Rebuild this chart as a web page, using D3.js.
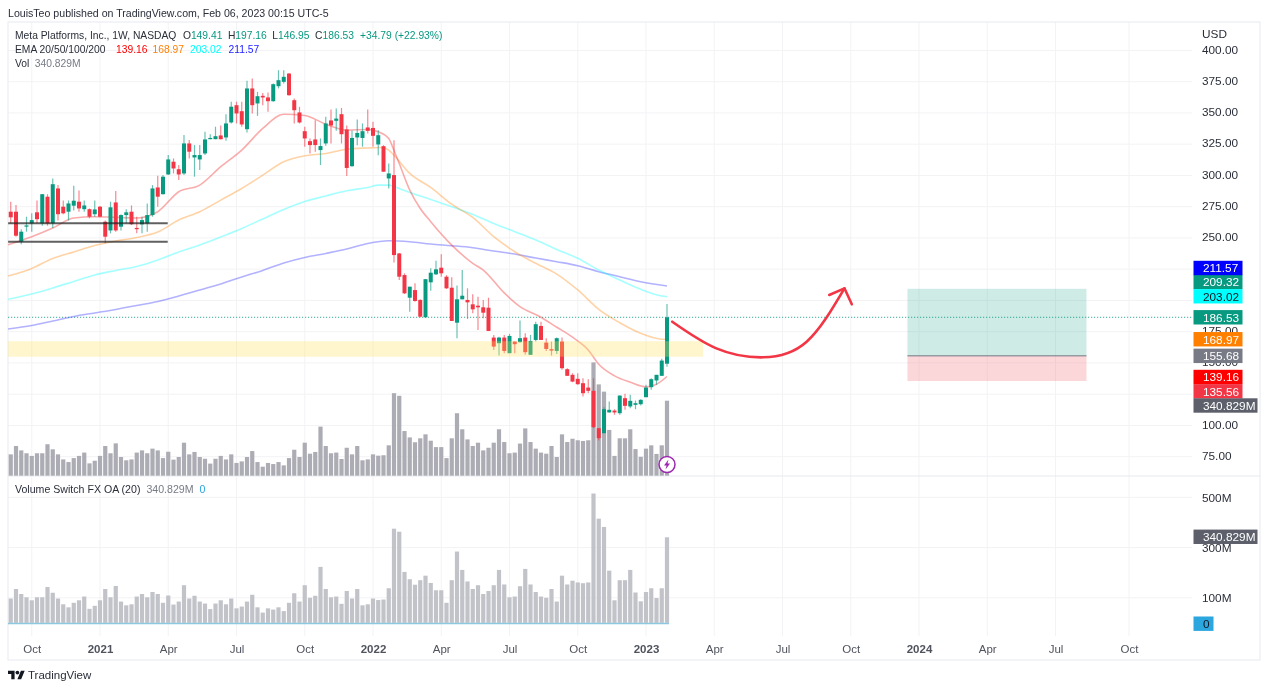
<!DOCTYPE html>
<html>
<head>
<meta charset="utf-8">
<style>
  html, body { margin: 0; padding: 0; background: #fff; }
  svg { display: block; filter: blur(.35px); }
  text { font-family: "Liberation Sans", Arial, sans-serif; font-size: 11.8px; fill: #2a2e39; }
  .legend text { font-size: 10.3px; }
  .legend text.wide { font-size: 10.6px; }
  .time text { font-size: 11.5px; fill: #50535e; }
</style>
<script src="https://cdn.jsdelivr.net/npm/d3@7/dist/d3.min.js"></script>
</head>
<body>
<svg id="chart"></svg>
<script>
// weekly candles, week 0 = 2020-09-07, week 125 = 2023-01-30
var opens = [271,271,247,259.5,261.7,270.5,261.7,283,261.7,289.6,275,271,275.8,279,273,273,269,275,263,256,278.4,259,268.3,271,258,260.9,261.7,268.3,290.4,285,300.8,311,305,301.6,325.6,314.4,312.8,317.6,329,329,332,330.4,342.4,356.2,351.4,337,369.6,357.6,363.7,362.4,359.4,371.4,374.9,381.5,360.2,350.4,335.4,327.4,328.8,320.3,325.6,344,343.7,349,336.8,307.4,330.4,330,338.4,338,324.8,323.4,297.6,300.3,237.6,220.3,202.2,208.3,200.4,186.5,214.5,220.9,226.2,219,210.2,182.2,200.9,200.4,196.9,195.8,194.5,194.2,170.3,165.8,170.3,157.8,167.1,166.6,170.3,156.5,168.4,179.6,166.3,161,159.6,167.1,145,140.5,137.3,133.8,130.3,127.7,97.8,93.8,110.4,111.9,109.8,121.8,115.2,116.5,117,122.6,130.6,136,139.7,149.41];
var highs = [279,276.3,257,267,269.7,280,285,285,297.6,292.3,280,280,291.8,288,280,273.6,280,275.5,264,279,287.5,269,273,276,267,267,277.6,292.3,299.8,300.3,316.3,313.6,308.3,332.3,328.3,324.3,324.3,335,333,339,340,349,359,359,359,375.7,377.5,366.9,366,366.4,373.6,384.2,384.2,382,361.6,354.9,339,329.6,344.2,329.6,346.9,352.7,353.5,354,340,336,344.7,341.6,352.7,342.9,336.2,324.2,309.6,328.2,238,221.7,211,213.7,201,217.1,225.7,231.8,237,220.3,218.5,212,224.3,209.7,204.9,203,200.4,202.2,172.4,171,172.4,173.2,167.1,183.9,173.8,172.4,183,183,169.8,167.1,170.3,170.3,145.8,141.8,141.8,137.8,137,137.8,97.8,114.6,119.2,113,123.9,125.3,124.5,119.9,121,132.5,137.8,140.5,153.3,197.16];
var lows = [261.7,251,245,255,255,261.7,259.8,259.8,258,264,269,264,272,271,271,265.7,267,266.5,245.7,253.7,255,256,261.7,260.3,253.7,253.7,255,267,275,284.8,300.3,301.6,296.3,300.3,313.6,299,304.3,316.3,329,329,328.8,327.7,341.6,341.6,339,334.4,349.6,347.7,356.2,350.9,359,369.6,373.6,363.7,341.6,341.6,323,317.6,319,308.3,323.7,325.6,335.7,325.6,299.5,307,324.2,323,333.6,323,316.2,303,289.6,230.4,216.3,205.2,191,199,186.5,186.5,207.8,220.3,219,209.2,183.6,169.7,200.9,185.2,189.7,176.4,185.7,175.6,160.4,155.9,157.8,157.8,157.8,166.3,156.5,156.5,167.1,168.4,159.6,155.9,157.2,144.5,139.7,134.6,132.5,123.1,125.8,97.8,88,93.8,110.4,108.5,108.5,112.5,113.8,113,116,122.6,128.5,132.5,139.7,146.95];
var closes = [266.5,251.8,255,260,264.3,265,285,261.7,293,269,269.7,277.6,279.8,273.6,276,267,272.8,267,251,274.5,256,268.3,270.5,261,257,264.3,268.3,289.6,283,299,312.8,305.6,300.8,325.6,319,316.3,316.3,328.8,330,331.4,329,341.6,355,349.6,340.8,369.6,356.2,363.4,362.4,359.4,373,376.2,378.9,364.2,352.2,342.4,329.6,324.3,324.3,323.5,341.6,340,345.5,333,306,330,334,335.4,335.7,331.7,332.2,303,301.6,236.3,219,205.7,211,199.6,187,217,222.2,224.9,221.7,209.7,183.6,200.9,203.8,198.5,192.9,194.5,190.2,175.6,163.1,170.3,159.6,171.6,165,169.8,158.6,167.6,181,168.4,161.2,159.9,169.8,145.8,139.7,135.1,133,125.8,127.7,98.6,89.8,113,112.5,110.4,123.9,115.7,119.7,117.8,120.5,130.3,137,140.5,151.9,186.53];
// volume in millions
var volumes = [97,135,115,102,90,102,102,143,120,97,74,62,80,90,105,56,68,90,135,102,147,85,70,74,105,115,102,123,115,80,109,73,85,150,97,108,85,77,55,77,90,74,97,58,65,85,112,62,41,58,53,62,47,80,118,85,150,100,108,223,135,102,105,76,127,97,135,70,74,97,91,93,138,375,363,203,174,152,170,188,159,130,130,80,170,284,211,165,135,150,115,127,150,211,153,102,105,146,215,153,123,105,100,135,85,188,153,168,161,158,161,515,415,382,208,90,170,170,211,121,86,123,138,99,138,340.829];

// EMA lines: week index and price
var ema20Weeks = [-0.5,4,8,12,16,20,24,28,32,36,40,44,48,52,56,60,64,68,70,72,73,74,76,78,80,84,88,90,94,97,101,104,107,110,112,115,118,121,123,125];
var ema20Vals = [244.6,251,257.9,266,267,266.5,266,271,287,292.3,307,320.3,337.6,349,348,341,336.2,336.8,335,329.6,320,309.6,288.3,273.6,263,244.3,229.7,224.3,206,195,186.6,178.6,170.6,160.4,149,139.7,134.6,130.9,133,139.16];
var ema50Weeks = [-0.5,4,8,12,16,20,24,28,32,36,40,44,48,52,56,60,64,68,71,72,73,76,80,84,88,92,96,100,104,108,112,116,120,124,125];
var ema50Vals = [219.5,225.6,233.6,238.8,244,247.6,250.4,254.8,264.3,271,280.3,289.6,300.3,311,315.7,317.6,321,322,322.4,320.2,316.2,301.6,290.4,277,266.4,251,239,229.7,221.1,208.4,192.9,182.2,173.7,169,168.97];
var ema100Weeks = [-0.5,4,8,12,16,20,24,28,32,36,40,44,48,52,56,60,64,68,70,72,74,76,80,84,88,92,96,100,104,108,112,116,120,124,125];
var ema100Vals = [201,205.2,210,215.2,220.4,224,227.2,232.4,238.8,244.4,250.8,257.6,265.2,272.8,279.2,283.6,287.7,290.4,292.3,292.3,289.6,286.4,280.8,275,268.8,261.6,255,248.3,240.8,233.7,224.3,216.3,208.9,203.6,203.02];
var ema200Weeks = [-0.5,4,8,12,16,20,24,28,32,36,40,44,48,52,56,60,64,68,72,76,80,84,88,92,96,100,104,108,112,116,120,125];
var ema200Vals = [177.2,180,183.6,187.2,190,192.8,196,199.2,203.6,208.4,213.2,218.8,224,230,234.4,237.6,241.1,245.6,247.8,247,245.1,243.8,242.2,239.5,237.1,233.9,231,227.8,223,219,215,211.57];

// drawings on the chart
var supportPrices = [261.7, 247];
var supportWeeks = [-0.5, 29.9];
var zonePrices = [167.4, 155];
var zoneWeeks = [-0.5, 131.9];
var boxWeeks = [170.8, 204.9];
var boxPrices = [209.32, 155.68, 135.56];
var arrowWeeks = [126,134.4,143.3,151.6,158.8];
var arrowPrices = [183,161.7,154.5,167,209.7];
var arrowHeadWeeks = [155.9,158.8,160.2];
var arrowHeadPrices = [204.4,209.7,196.9];

// axes
var tickWeeks = [4,17,30,43,56,69,82,95,108,121,134,147,160,173,186,199,213];
var tickLabels = ["Oct","2021","Apr","Jul","Oct","2022","Apr","Jul","Oct","2023","Apr","Jul","Oct","2024","Apr","Jul","Oct"];
var priceGrid = [400,375,350,325,300,275,250,225,200,175,150,125,100,75];
var priceLabels = [400,375,350,325,300,275,250,175,150,100,75];
var volumeTicks = [500,300,100];

var width=1274, height=693;
var green="#089981", red="#f23645", grey="#787b86", gridColor="#f3f3f6", frameColor="#e8eaf1";
var plot={left:8, right:1192, axis:1202, frame:1260, top:22, sep:476, bottom:624, timeBottom:660};

var svg=d3.select("#chart").attr("width",width).attr("height",height);

var x=d3.scaleLinear().domain([0,125]).range([10.75,667]);
var y=d3.scaleLinear().domain([75,375]).range([456.7,81.7]);
var volMain=d3.scaleLinear().domain([0,340.829]).range([475.7,400.7]);
var volLow=d3.scaleLinear().domain([0,500]).range([622.9,497.3]);

// frame and grid
var grid=svg.append("g");
tickWeeks.forEach(function(w){
  grid.append("line").attr("x1",x(w)).attr("x2",x(w)).attr("y1",plot.top).attr("y2",plot.bottom+12)
      .attr("stroke",gridColor);
});
priceGrid.forEach(function(p){
  grid.append("line").attr("x1",plot.left).attr("x2",plot.right).attr("y1",y(p)).attr("y2",y(p)).attr("stroke",gridColor);
});
volumeTicks.forEach(function(v){
  grid.append("line").attr("x1",plot.left).attr("x2",plot.right).attr("y1",volLow(v)).attr("y2",volLow(v)).attr("stroke",gridColor);
});
grid.append("rect").attr("x",plot.left).attr("y",plot.top).attr("width",plot.frame-plot.left).attr("height",plot.timeBottom-plot.top)
    .attr("fill","none").attr("stroke",frameColor);
grid.append("line").attr("x1",plot.left).attr("x2",plot.frame).attr("y1",plot.sep).attr("y2",plot.sep).attr("stroke",frameColor);

// long position box
svg.append("rect").attr("x",x(boxWeeks[0])).attr("width",x(boxWeeks[1])-x(boxWeeks[0]))
   .attr("y",y(boxPrices[0])).attr("height",y(boxPrices[1])-y(boxPrices[0]))
   .attr("fill",green).attr("fill-opacity",.2);
svg.append("rect").attr("x",x(boxWeeks[0])).attr("width",x(boxWeeks[1])-x(boxWeeks[0]))
   .attr("y",y(boxPrices[1])).attr("height",y(boxPrices[2])-y(boxPrices[1]))
   .attr("fill",red).attr("fill-opacity",.2);
svg.append("line").attr("x1",x(boxWeeks[0])).attr("x2",x(boxWeeks[1])).attr("y1",y(boxPrices[1])).attr("y2",y(boxPrices[1]))
   .attr("stroke",grey).attr("stroke-opacity",.7).attr("stroke-width",1.5);

// volume bars, main pane and lower pane
svg.append("g").selectAll("rect").data(volumes).join("rect")
   .attr("x",function(d,i){return x(i)-2.1;}).attr("width",4.2)
   .attr("y",function(d){return volMain(d);}).attr("height",function(d){return volMain(0)-volMain(d);})
   .attr("fill","#acadb4");
svg.append("g").selectAll("rect").data(volumes).join("rect")
   .attr("x",function(d,i){return x(i)-2.1;}).attr("width",4.2)
   .attr("y",function(d){return volLow(d);}).attr("height",function(d){return volLow(0)-volLow(d);})
   .attr("fill","#c2c3c9");
svg.append("line").attr("x1",plot.left).attr("x2",x(125)+2).attr("y1",volLow(0)+.5).attr("y2",volLow(0)+.5)
   .attr("stroke","#8cc8e0").attr("stroke-width",1.5);

// last price dotted line
svg.append("line").attr("x1",plot.left).attr("x2",plot.right).attr("y1",y(186.53)).attr("y2",y(186.53))
   .attr("stroke",green).attr("stroke-opacity",.8).attr("stroke-dasharray","1.2 1.8");

// EMAs
function drawEma(weeks,vals,color){
  var line=d3.line().x(function(d){return x(d);}).y(function(d,i){return y(vals[i]);}).curve(d3.curveMonotoneX);
  svg.append("path").attr("d",line(weeks)).attr("fill","none").attr("stroke",color)
     .attr("stroke-opacity",.35).attr("stroke-width",1.6);
}
drawEma(ema200Weeks,ema200Vals,"#2222ff");
drawEma(ema100Weeks,ema100Vals,"#00ffff");
drawEma(ema50Weeks,ema50Vals,"#ff8000");
drawEma(ema20Weeks,ema20Vals,"#f01010");

// candles
var candles=svg.append("g").selectAll("g").data(closes).join("g");
candles.append("line")
   .attr("x1",function(d,i){return x(i);}).attr("x2",function(d,i){return x(i);})
   .attr("y1",function(d,i){return y(highs[i]);}).attr("y2",function(d,i){return y(lows[i]);})
   .attr("stroke",function(d,i){return d>=opens[i]?green:red;}).attr("stroke-opacity",.6).attr("stroke-width",1.2);
candles.append("rect")
   .attr("x",function(d,i){return x(i)-2;}).attr("width",4)
   .attr("y",function(d,i){return y(Math.max(d,opens[i]));})
   .attr("height",function(d,i){return Math.max(1.2,Math.abs(y(d)-y(opens[i])));})
   .attr("fill",function(d,i){return d>=opens[i]?green:red;});

// support lines
supportPrices.forEach(function(p){
  svg.append("line").attr("x1",x(supportWeeks[0])).attr("x2",x(supportWeeks[1])).attr("y1",y(p)).attr("y2",y(p))
     .attr("stroke","#222").attr("stroke-opacity",.72).attr("stroke-width",2);
});

// yellow zone
svg.append("rect").attr("x",x(zoneWeeks[0])).attr("width",x(zoneWeeks[1])-x(zoneWeeks[0]))
   .attr("y",y(zonePrices[0])).attr("height",y(zonePrices[1])-y(zonePrices[0]))
   .attr("fill","#ffe15a").attr("fill-opacity",.3);

// hand drawn arrow
var arrowLine=d3.line().x(function(d){return x(d);}).y(function(d,i){return y(arrowPrices[i]);}).curve(d3.curveNatural);
svg.append("path").attr("d",arrowLine(arrowWeeks)).attr("fill","none").attr("stroke",red).attr("stroke-width",2.6).attr("stroke-linecap","round");
var headLine=d3.line().x(function(d){return x(d);}).y(function(d,i){return y(arrowHeadPrices[i]);});
svg.append("path").attr("d",headLine(arrowHeadWeeks)).attr("fill","none").attr("stroke",red).attr("stroke-width",2.6).attr("stroke-linecap","round").attr("stroke-linejoin","round");

// lightning mark on last bar
var bolt=svg.append("g").attr("transform","translate("+x(125)+",464.5)");
bolt.append("circle").attr("r",8).attr("fill","#fff").attr("stroke","#9c27b0").attr("stroke-width",1.5);
bolt.append("path").attr("d","M1.5,-5 L-3,1 L-.5,1 L-1.5,5 L3,-1 L.5,-1 Z").attr("fill","#9c27b0");

// price and time axes
var priceAxis=d3.axisRight(y).tickValues(priceLabels).tickSize(0).tickPadding(0).tickFormat(d3.format(".2f"));
svg.append("g").attr("transform","translate("+plot.axis+",-1)").call(priceAxis)
   .call(function(g){g.select(".domain").remove();});
var volumeAxis=d3.axisRight(volLow).tickValues(volumeTicks).tickSize(0).tickPadding(0).tickFormat(function(d){return d+"M";});
svg.append("g").attr("transform","translate("+plot.axis+",0)").call(volumeAxis)
   .call(function(g){g.select(".domain").remove();});
var timeAxis=d3.axisBottom(x).tickValues(tickWeeks).tickSize(0).tickPadding(0)
   .tickFormat(function(d,i){return tickLabels[i];});
svg.append("g").attr("class","time").attr("transform","translate(0,649)").call(timeAxis)
   .call(function(g){g.select(".domain").remove();})
   .selectAll("text").attr("y",0).attr("dy",".35em")
   .style("font-weight",function(d,i){return tickLabels[i].length==4?"bold":"normal";});

svg.append("text").attr("x",plot.axis).attr("y",38).text("USD");

// price tags on the axis
function tag(cy,label,color,textColor,w){
  svg.append("rect").attr("x",plot.right+1.5).attr("y",cy-7.2).attr("width",w||49).attr("height",14.4).attr("fill",color);
  svg.append("text").attr("x",plot.axis+1).attr("y",cy+4.3).style("fill",textColor).text(label);
}
tag(y(209.32)-6.8,"209.32",green,"#fff");
tag(y(211.57)-18,"211.57","#0000ff","#fff");
tag(y(203.02)-.4,"203.02","#00ffff","#131722");
tag(y(186.53),"186.53",green,"#fff");
tag(y(168.97),"168.97","#ff8000","#fff");
tag(y(155.68),"155.68",grey,"#fff");
tag(y(139.16)+.5,"139.16","#ff0000","#fff");
tag(y(135.56)+10.3,"135.56",red,"#fff");
tag(volMain(340.829)+4.8,"340.829M","#5d606b","#fff",64);
tag(volLow(340.829)-.5,"340.829M","#5d606b","#fff",64);
tag(volLow(0)+.8,"0","#2ca6de","#131722",20);

// header and legends
var legendG=svg.append("g").attr("class","legend");
function legend(yPos,parts,cls){
  var t=legendG.append("text").attr("class",cls||null).attr("x",15).attr("y",yPos);
  parts.forEach(function(p){
    t.append("tspan").attr("dx",p[2]||0).style("fill",p[1]||"#2a2e39").text(p[0]);
  });
}
legendG.append("text").attr("class","wide").attr("x",8).attr("y",17).text("LouisTeo published on TradingView.com, Feb 06, 2023 00:15 UTC-5");
legend(39,[["Meta Platforms, Inc., 1W, NASDAQ"],["O",null,6.5],["149.41",green],["H",null,5.5],["197.16",green],["L",null,5.5],["146.95",green],["C",null,5.5],["186.53",green],["+34.79 (+22.93%)",green,6]]);
legend(53,[["EMA 20/50/100/200"],["139.16","#ff0000",10.5],["168.97","#ff8000",5],["203.02","#00ffff",6],["211.57","#2222ff",7]]);
legend(67,[["Vol"],["340.829M",grey,5.5]]);
legend(493,[["Volume Switch FX OA (20)"],["340.829M",grey,6],["0","#2ca6de",6]],"wide");

// TradingView logo
var logo=svg.append("g").attr("transform","translate(8,668.8) scale(.47)").attr("fill","#131722");
logo.append("path").attr("d","M14 22H7V11H0V4h14v18zM28 22h-8l7.5-18h8L28 22z");
logo.append("circle").attr("cx",20).attr("cy",8).attr("r",4);
svg.append("text").attr("x",28).attr("y",679).style("font-size","11.5px").text("TradingView");
</script>
</body>
</html>
